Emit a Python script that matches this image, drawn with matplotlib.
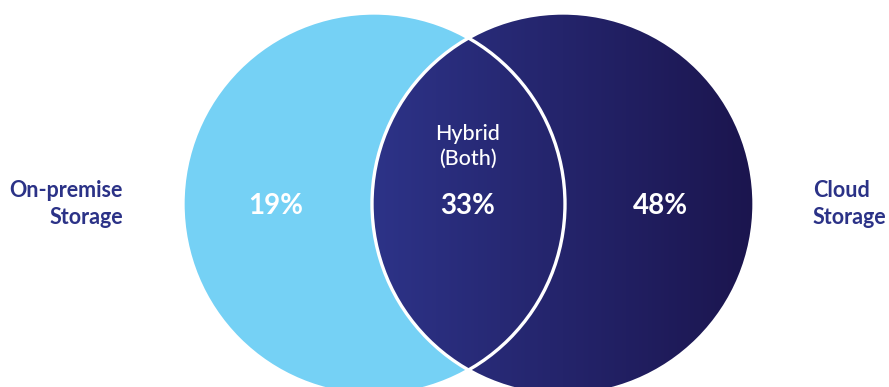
import numpy as np
import matplotlib.pyplot as plt
from matplotlib.patches import Circle
from matplotlib.colors import LinearSegmentedColormap

# data
segments = ["On-premise\nStorage", "Hybrid\n(Both)", "Cloud\nStorage"]
shares = [19, 33, 48]

light_blue = "#75D1F5"
navy_light = "#2D3388"
navy_dark = "#1B154E"
label_color = "#2B3287"

plt.rcParams['font.family'] = ['Lato', 'DejaVu Sans']

fig = plt.figure(figsize=(8.89, 3.87), dpi=100)
ax = fig.add_axes([0, 0, 1, 1])
ax.set_xlim(0, 889)
ax.set_ylim(387, 0)
ax.axis('off')

r = 191
left_c = (374, 204)
right_c = (563, 204)

# left circle
ax.add_patch(Circle(left_c, r, facecolor=light_blue, edgecolor='none', zorder=1))

# right circle with horizontal gradient
right = Circle(right_c, r, facecolor='none', edgecolor='none', zorder=2)
ax.add_patch(right)
cmap = LinearSegmentedColormap.from_list('navy', [navy_light, navy_dark])
grad = np.linspace(0, 1, 256).reshape(1, -1)
img = ax.imshow(grad, cmap=cmap, aspect='auto', zorder=2,
                extent=[right_c[0] - r, right_c[0] + r, right_c[1] + r, right_c[1] - r])
img.set_clip_path(right)

# white outlines of the overlap
for c in (left_c, right_c):
    ax.add_patch(Circle(c, r, facecolor='none', edgecolor='white', lw=2.4, zorder=3))

ax.set_xlim(0, 889)
ax.set_ylim(387, 0)

# percentages
pct_x = [276, 468, 660]
for x, v in zip(pct_x, shares):
    ax.text(x, 206, f"{v}%", color='white', fontsize=20, fontweight='bold',
            ha='center', va='center', zorder=4)

ax.text(468, 146, segments[1], color='white', fontsize=15.5, fontweight='medium',
        ha='center', va='center', linespacing=1.3, zorder=4)

ax.text(123, 204, segments[0], color=label_color, fontsize=15.5, fontweight='bold',
        ha='right', va='center', linespacing=1.3)
ax.text(813, 204, segments[2], color=label_color, fontsize=15.5, fontweight='bold',
        ha='left', va='center', linespacing=1.3)

fig.savefig('out.png', dpi=100)
